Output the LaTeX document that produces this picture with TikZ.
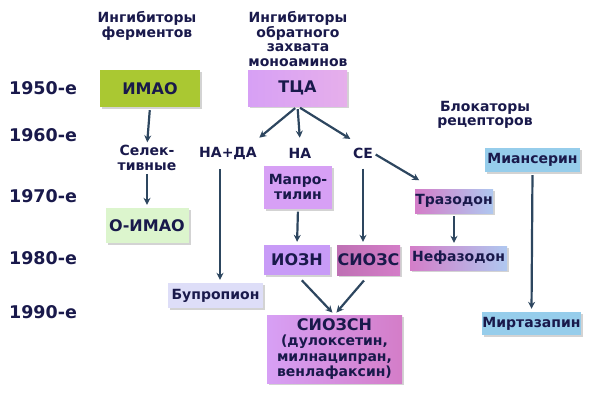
\documentclass[tikz,border=0pt]{standalone}
\usepackage{fontspec}
\setmainfont{DejaVu Sans}
\usetikzlibrary{shadows,arrows.meta}
\definecolor{txtblue}{RGB}{25,25,75}
\definecolor{arrblue}{RGB}{45,70,95}
\definecolor{imaogreen}{RGB}{170,200,50}
\definecolor{lightgreen}{RGB}{220,245,205}
\definecolor{lavender}{RGB}{222,222,248}
\definecolor{violet1}{RGB}{215,160,245}
\definecolor{violet2}{RGB}{230,175,235}
\definecolor{pinkish}{RGB}{212,125,200}
\definecolor{bluish}{RGB}{175,200,240}
\definecolor{skyblue}{RGB}{150,205,235}
\tikzset{every picture/.style={/utils/exec={\bfseries}}}
\begin{document}
\begin{tikzpicture}[x=1pt,y=-1pt,
  txt/.style={text=txtblue,align=center,inner sep=0pt},
  head/.style={txt,font=\fontsize{14}{14.5}\selectfont},
  year/.style={txt,font=\fontsize{17.5}{20}\selectfont},
  lbl/.style={txt,font=\fontsize{14}{15}\selectfont,inner xsep=0pt,inner ysep=7pt},
  box/.style={txt,font=\fontsize{14}{15.5}\selectfont,
    drop shadow={shadow xshift=2pt,shadow yshift=-2pt,opacity=0.35,fill=gray}},
  bigbox/.style={box,font=\fontsize{16}{18}\selectfont},
  arr/.style={-{Stealth[length=7pt,width=7pt]},draw=arrblue,line width=2.2pt,shorten <=3pt,shorten >=3pt}]
  \useasboundingbox (0,0) rectangle (594,400);

  % headers
  \node[head] (hdenz) at (147,26) {Ингибиторы\\ферментов};
  \node[head] (hdreup) at (298,39) {Ингибиторы\\обратного\\захвата\\моноаминов};
  \node[head] (hdrec) at (485,115) {Блокаторы\\рецепторов};

  % decades
  \node[year] (y50) at (43,88) {1950-е};
  \node[year] (y60) at (43,135) {1960-е};
  \node[year] (y70) at (43,196) {1970-е};
  \node[year] (y80) at (43,258) {1980-е};
  \node[year] (y90) at (43,312) {1990-е};

  % enzyme inhibitors
  \node[bigbox,fill=imaogreen,minimum width=100pt,minimum height=37pt] (imao) at (150,88.5) {ИМАО};
  \node[head] (sel) at (147,158) {Селек-\\тивные};
  \node[bigbox,fill=lightgreen,minimum width=83pt,minimum height=35pt] (oimao) at (147,225.5) {О-ИМАО};

  % reuptake inhibitors
  \node[bigbox,left color=violet1,right color=violet2,minimum width=99pt,minimum height=36pt] (tca) at (297.5,88) {ТЦА};
  \node[lbl] (nada) at (228,153) {НА+ДА};
  \node[lbl] (na) at (300,153) {НА};
  \node[lbl] (se) at (363,153) {СЕ};
  \node[box,fill=violet1,minimum width=68pt,minimum height=43pt] (map) at (298,187) {Мапро-\\тилин};
  \node[bigbox,fill=violet1!90!blue!90,minimum width=66pt,minimum height=30pt] (iozn) at (297,260) {ИОЗН};
  \node[bigbox,left color=pinkish!90!black,right color=pinkish,minimum width=63pt,minimum height=30pt] (sioz) at (368.5,260) {СИОЗС};
  \node[box,fill=lavender,minimum width=95pt,minimum height=25pt] (bup) at (215.5,295.5) {Бупропион};
  \node[box,left color=violet1,right color=pinkish,minimum width=135pt,minimum height=68pt] (sn) at (334.5,349)
    {{\fontsize{16}{17}\selectfont СИОЗСН}\\(дулоксетин,\\милнаципран,\\венлафаксин)};

  % receptor blockers
  \node[box,left color=pinkish,right color=bluish,minimum width=78pt,minimum height=24pt] (traz) at (454,201) {Тразодон};
  \node[box,left color=pinkish,right color=bluish,minimum width=97pt,minimum height=24pt] (nef) at (458.5,258) {Нефазодон};
  \node[box,fill=skyblue,minimum width=95pt,minimum height=24pt] (mian) at (532.5,160) {Миансерин};
  \node[box,fill=skyblue,minimum width=97pt,minimum height=23pt] (mirt) at (531.5,323.5) {Миртазапин};

  % arrows
  \draw[arr] (imao.south) -- (sel.north);
  \draw[arr] (sel.south) -- (oimao.north);
  \draw[arr] (tca.south) -- (nada.north east);
  \draw[arr] (tca.south) -- (na.north);
  \draw[arr] (tca.south) -- (se.north west);
  \draw[arr] ([xshift=-8pt]nada.south) -- ([xshift=-8pt]nada.south |- bup.north);
  \draw[arr] (map.south) -- (iozn.north);
  \draw[arr] (se.south) -- (se.south |- sioz.north);
  \draw[arr] (se.east) -- ([xshift=7pt,yshift=7pt]traz.north west);
  \draw[arr] (traz.south) -- (traz.south |- nef.north);
  \draw[arr] (mian.south) -- (mirt.north);
  \draw[arr,shorten <=7pt] (iozn.south) -- (sn.north);
  \draw[arr,shorten <=7pt] (sioz.south) -- (sn.north);
\end{tikzpicture}
\end{document}
